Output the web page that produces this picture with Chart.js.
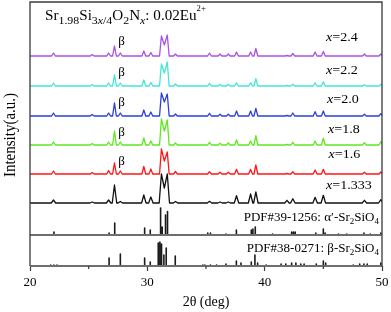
<!DOCTYPE html>
<html>
<head>
<meta charset="utf-8">
<script src="https://cdn.jsdelivr.net/npm/chart.js@4.4.0/dist/chart.umd.min.js"></script>
<style>
html, body { margin: 0; padding: 0; background: #fff; }
</style>
</head>
<body>
<canvas id="myChart" width="391" height="312"></canvas>
<script>
// peak positions (2theta) shared by the sample patterns
var peakPos = [22.0, 25.3, 26.7, 27.2, 27.7, 29.7, 30.3, 31.2, 31.45, 31.7, 32.4, 35.3, 36.2, 36.9, 37.6, 38.8, 39.25, 41.9, 42.4, 44.3, 45.0, 48.5, 49.9];

// sample labels (x value) and stacking offsets, top to bottom
var sampleX = ['2.4', '2.2', '2.0', '1.8', '1.6', '1.333'];
var offsets = [210, 180, 150, 121, 92, 63];

// peak heights
var h24   = [3, 1.5, 3, 10, 3, 5, 3.5, 20, 11, 21, 2, 3, 2, 2, 4, 4, 7.5, 0.5, 2.5, 4, 4.5, 2, 2];
var h22   = [3, 1.5, 3, 11, 3, 6, 3.5, 22, 13, 24, 2, 2.7, 1.7, 1.7, 3.3, 3.3, 7.3, 0.5, 1.7, 3.3, 4.3, 1.3, 1.7];
var h20   = [3, 1.5, 3, 13, 3, 6, 4, 23, 14, 22, 2, 2.7, 1.7, 1.7, 5, 5, 7.7, 0.5, 3, 4.3, 5, 1.7, 2.3];
var h18   = [3, 1.5, 3, 14, 3, 7, 4, 26, 14, 25, 2, 2.7, 1.7, 2, 5, 4, 9.3, 0.5, 2.7, 4, 6.7, 2.3, 3.3];
var h16   = [3, 1.5, 3.5, 11, 3, 7.5, 5, 25, 13, 22, 2.5, 2.3, 1.7, 1.7, 4.7, 4.7, 9, 0.5, 2.3, 4, 4.7, 1.7, 2];
var h1333 = [3, 1, 3, 18, 1.5, 8, 6, 29, 15, 29, 1.5, 1.7, 1, 1, 7.3, 9, 11, 2.7, 4.3, 5.7, 7.7, 2.7, 3.3];

// reference cards
var pdf39Pos = [22.04, 26.74, 27.22, 29.77, 30.25, 31.13, 31.27, 31.55, 31.72, 35.15, 35.38, 36.7, 37.59, 38.86, 39.0, 39.2, 40.67, 42.3, 42.45, 42.6, 44.36, 45.0, 45.15, 46.3, 47.0, 48.46, 49.0, 49.9];
var pdf39H   = [3, 2, 12, 7, 5, 27, 8, 20, 23.5, 2, 2, 1, 5, 5, 6, 8, 1, 3, 3, 3, 2, 6, 2, 1, 1, 2, 1, 2];
var pdf38Pos = [21.76, 22.04, 22.3, 26.74, 27.7, 29.77, 30.25, 30.93, 31.07, 31.21, 31.41, 31.61, 32.38, 34.73, 34.9, 35.38, 35.9, 36.7, 37.59, 37.98, 38.86, 39.17, 39.4, 40.13, 41.4, 41.8, 42.3, 42.66, 43.08, 43.36, 44.4, 45.0, 45.2, 47.55, 48.1, 48.46, 48.74, 49.9];
var pdf38H   = [1, 1, 1, 8, 12, 8, 4, 23, 24, 22, 11, 18, 10, 1, 1, 1, 1, 2, 5, 3, 4, 11, 3, 1, 2, 2, 3, 3, 2, 2, 2, 5, 3, 1, 2, 2, 2, 3];
var pdf39Base = 31;
var pdf38Base = 0;

var colors = ['#ab50ea', '#44e6d4', '#2a3ee2', '#5ee81e', '#ff1616', '#111111'];

function tracePoints(base, heights, w) {
	var pts = [{x: 20, y: base}];
	for (var i = 0; i < peakPos.length; i++) {
		var p = peakPos[i];
		if (i === 0 || p - peakPos[i - 1] > 2 * w) pts.push({x: p - w, y: base});
		pts.push({x: p, y: base + heights[i]});
		if (i === peakPos.length - 1 || peakPos[i + 1] - p > 2 * w) pts.push({x: p + w, y: base});
	}
	if (pts[pts.length - 1].x < 50) pts.push({x: 50, y: base});
	return pts;
}

function stickPoints(base, pos, hts) {
	var pts = [{x: 20, y: base}];
	pos.forEach(function (p, i) {
		pts.push({x: p, y: base}, {x: p, y: base + hts[i]}, {x: p, y: base});
	});
	pts.push({x: 50, y: base});
	return pts;
}

var heights = [h24, h22, h20, h18, h16, h1333];
var datasets = heights.map(function (h, i) {
	return {
		label: 'x=' + sampleX[i],
		data: tracePoints(offsets[i], h, i === 5 ? 0.19 : 0.16),
		borderColor: colors[i],
		borderWidth: 1.3
	};
});
datasets.push({ label: 'PDF#39-1256', data: stickPoints(pdf39Base, pdf39Pos, pdf39H), borderColor: '#1a1a1a', borderWidth: 1.6 });
datasets.push({ label: 'PDF#38-0271', data: stickPoints(pdf38Base, pdf38Pos, pdf38H), borderColor: '#1a1a1a', borderWidth: 1.6 });

var SERIF = '"Liberation Serif", "Times New Roman", serif';

// draw a run of text pieces: [text, size, dy, italic]
function drawRich(ctx, x, y, parts, sx) {
	ctx.save();
	ctx.translate(x, y);
	ctx.scale(sx, 1);
	ctx.textBaseline = 'alphabetic';
	ctx.textAlign = 'left';
	var cx = 0;
	parts.forEach(function (pt) {
		ctx.font = (pt[3] ? 'italic ' : '') + pt[1] + 'px ' + SERIF;
		ctx.fillText(pt[0], cx, pt[2]);
		cx += ctx.measureText(pt[0]).width;
	});
	ctx.restore();
	return cx * sx;
}

function richWidth(ctx, parts) {
	var w = 0;
	parts.forEach(function (pt) {
		ctx.font = (pt[3] ? 'italic ' : '') + pt[1] + 'px ' + SERIF;
		w += ctx.measureText(pt[0]).width;
	});
	return w;
}

var decor = {
	id: 'decor',
	afterDatasetsDraw: function (chart) {
		var ctx = chart.ctx, a = chart.chartArea;
		var xs = chart.scales.x, ys = chart.scales.y;
		ctx.save();
		// separator between the two reference cards
		ctx.strokeStyle = '#6e6e6e';
		ctx.lineWidth = 2;
		var sy = ys.getPixelForValue(pdf39Base);
		ctx.beginPath(); ctx.moveTo(a.left, sy); ctx.lineTo(a.right, sy); ctx.stroke();
		// bottom axis
		ctx.beginPath(); ctx.moveTo(a.left, a.bottom); ctx.lineTo(a.right, a.bottom); ctx.stroke();
		// frame
		ctx.strokeStyle = '#3a3a3a';
		ctx.lineWidth = 1.3;
		ctx.beginPath();
		ctx.moveTo(a.left, a.bottom); ctx.lineTo(a.left, a.top); ctx.lineTo(a.right, a.top); ctx.lineTo(a.right, a.bottom);
		ctx.stroke();
		// minor ticks
		ctx.lineWidth = 1.2;
		[25, 35, 45].forEach(function (v) {
			var px = xs.getPixelForValue(v);
			ctx.beginPath(); ctx.moveTo(px, a.bottom); ctx.lineTo(px, a.bottom + 3); ctx.stroke();
		});
		ctx.restore();
	},
	afterDraw: function (chart) {
		var ctx = chart.ctx;
		ctx.save();
		ctx.fillStyle = '#000';
		// title
		drawRich(ctx, 45, 20, [
			['Sr', 14, 0], ['1.98', 11, 4], ['Si', 14, 0], ['3', 11, 4], ['x', 11, 4, true], ['/4', 11, 4],
			['O', 14, 0], ['2', 11, 4], ['N', 14, 0], ['x', 11, 4, true], [': 0.02Eu', 14, 0], ['2+', 8, -9]
		], 1.08);
		// sample labels
		var lab = [[326, 41], [326, 73.5], [327, 102.5], [328, 132.5], [328.5, 157.5], [326, 189]];
		sampleX.forEach(function (v, i) {
			drawRich(ctx, lab[i][0], lab[i][1], [['x', 13, 0, true], ['=' + v, 13, 0]], 1.08);
		});
		// beta markers
		ctx.font = '13px ' + SERIF;
		ctx.textAlign = 'center';
		ctx.textBaseline = 'middle';
		[42, 73, 102.5, 133, 162].forEach(function (y) { ctx.fillText('\u03b2', 121.5, y); });
		// reference card labels, right aligned
		var p39 = [['PDF#39-1256: \u03b1\u2032-Sr', 13, 0], ['2', 9, 3], ['SiO', 13, 0], ['4', 9, 3]];
		var p38 = [['PDF#38-0271: \u03b2-Sr', 13, 0], ['2', 9, 3], ['SiO', 13, 0], ['4', 9, 3]];
		drawRich(ctx, 379 - richWidth(ctx, p39), 221, p39, 1);
		drawRich(ctx, 379 - richWidth(ctx, p38), 251.5, p38, 1);
		// y title
		ctx.translate(15, 135);
		ctx.rotate(-Math.PI / 2);
		ctx.scale(1, 1.15);
		ctx.font = '15px ' + SERIF;
		ctx.textAlign = 'center';
		ctx.textBaseline = 'alphabetic';
		ctx.fillText('Intensity(a.u.)', 0, 0);
		ctx.restore();
	}
};

var ctx = document.getElementById('myChart').getContext('2d');
var config = {
	type: 'line',
	data: { datasets: datasets },
	options: {
		responsive: false,
		animation: false,
		devicePixelRatio: 1,
		layout: { padding: { left: 30, right: 9, top: 2, bottom: 0 } },
		plugins: { legend: { display: false }, tooltip: { enabled: false } },
		elements: { point: { radius: 0 }, line: { tension: 0, borderJoinStyle: 'round' } },
		scales: {
			x: {
				type: 'linear', min: 20, max: 50,
				ticks: { stepSize: 10, maxRotation: 0, padding: 4, color: '#000', font: { family: SERIF, size: 13 } },
				grid: { drawOnChartArea: false, tickLength: 5, tickColor: '#3a3a3a', tickWidth: 1.2 },
				border: { display: false },
				title: { display: true, text: '2\u03b8 (deg)', color: '#000', font: { family: SERIF, size: 14 }, padding: { top: 0, bottom: 1 } },
				afterFit: function (s) { s.height = 46; s.paddingLeft = 0; s.paddingRight = 0; }
			},
			y: { display: false, min: 0, max: 264 }
		}
	},
	plugins: [decor]
};
var myChart = new Chart(ctx, config);
</script>
</body>
</html>
